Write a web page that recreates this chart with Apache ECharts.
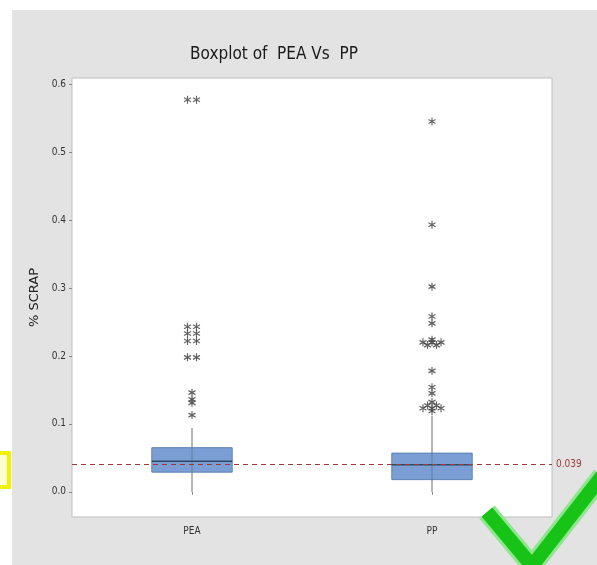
<!DOCTYPE html>
<html>
<head>
<meta charset="utf-8">
<script src="https://cdn.jsdelivr.net/npm/echarts@6/dist/echarts.min.js"></script>
<style>
html, body { margin: 0; padding: 0; background: #fff; }
#main { width: 597px; height: 565px; }
</style>
</head>
<body>
<div id="main"></div>
<script>
// 数据
var categories = ['PEA', 'PP'];
var lowWhisker = [0.0, 0.0];
var q1 = [0.029, 0.018];
var median = [0.045, 0.040];
var q3 = [0.065, 0.057];
var highWhisker = [0.094, 0.112];
var peaOutliers = [0.577, 0.577, 0.243, 0.243, 0.233, 0.233, 0.222, 0.222, 0.198, 0.198, 0.146, 0.136, 0.131, 0.113];
var ppOutliers = [0.545, 0.393, 0.302, 0.258, 0.248, 0.224, 0.220, 0.220, 0.220, 0.216, 0.216, 0.178, 0.154, 0.145, 0.132, 0.127, 0.127, 0.123, 0.123, 0.123, 0.119];
var yTicks = [0, 0.1, 0.2, 0.3, 0.4, 0.5, 0.6];
var refValue = 0.039;

var narrow = "'DejaVu Sans Condensed', 'Liberation Sans Narrow', 'Roboto Condensed', sans-serif";

var boxData = [];
for (var i = 0; i < categories.length; i++) {
    boxData.push([i, lowWhisker[i], q1[i], median[i], q3[i], highWhisker[i]]);
}

// 离群点, 相同值左右错开
function buildOutliers(list, idx) {
    var seen = {};
    var out = [];
    for (var k = 0; k < list.length; k++) {
        var key = list[k].toFixed(3);
        var n = seen[key] || 0;
        seen[key] = n + 1;
        var total = list.filter(function (v) { return v.toFixed(3) === key; }).length;
        var dx = (n - (total - 1) / 2) * 9;
        out.push({ value: [idx, list[k]], symbolOffset: [dx, 0] });
    }
    return out;
}
var outlierData = buildOutliers(peaOutliers, 0).concat(buildOutliers(ppOutliers, 1));

function renderBox(params, api) {
    var x = api.value(0);
    var lo = api.coord([x, api.value(1)]);
    var b1 = api.coord([x, api.value(2)]);
    var m = api.coord([x, api.value(3)]);
    var b3 = api.coord([x, api.value(4)]);
    var hi = api.coord([x, api.value(5)]);
    var w = api.size([1, 0])[0] * 0.335;
    return {
        type: 'group',
        children: [
            { type: 'line', shape: { x1: lo[0], y1: lo[1], x2: b1[0], y2: b1[1] }, style: { stroke: '#6e6e6e', lineWidth: 1 } },
            { type: 'line', shape: { x1: b3[0], y1: b3[1], x2: hi[0], y2: hi[1] }, style: { stroke: '#6e6e6e', lineWidth: 1 } },
            { type: 'rect', shape: { x: b1[0] - w / 2, y: b3[1], width: w, height: b1[1] - b3[1] }, style: { fill: '#7b9fd5', stroke: '#5e80b3', lineWidth: 1 } },
            { type: 'line', shape: { x1: b3[0], y1: b3[1], x2: b1[0], y2: b1[1] }, style: { stroke: 'rgba(70,80,100,0.45)', lineWidth: 1 } },
            { type: 'line', shape: { x1: m[0] - w / 2, y1: m[1], x2: m[0] + w / 2, y2: m[1] }, style: { stroke: '#2f4a68', lineWidth: 1.5 } }
        ]
    };
}

var myChart = echarts.init(document.getElementById('main'));
myChart.setOption({
    backgroundColor: '#ffffff',
    animation: false,
    title: {
        text: 'Boxplot of  PEA Vs  PP',
        left: 269,
        top: 41,
        textAlign: 'center',
        textStyle: { fontFamily: narrow, fontSize: 17, fontWeight: 'normal', color: '#1a1a1a' }
    },
    graphic: {
        elements: [
            { type: 'rect', z: -100, shape: { x: 12, y: 10, width: 600, height: 570 }, style: { fill: '#e3e3e3' } },
            { type: 'rect', z: 100, shape: { x: -10, y: 453, width: 19, height: 34 }, style: { fill: '#ffffd0', stroke: '#f2f200', lineWidth: 4 } },
            { type: 'polyline', z: 100, shape: { points: [[487, 512], [532, 566], [602, 476]] }, style: { fill: null, stroke: '#8fe68f', lineWidth: 20 } },
            { type: 'polyline', z: 101, shape: { points: [[487, 512], [532, 566], [602, 476]] }, style: { fill: null, stroke: '#17c317', lineWidth: 14 } }
        ]
    },
    grid: {
        left: 72,
        right: 45,
        top: 78,
        bottom: 48,
        show: true,
        backgroundColor: '#ffffff',
        borderColor: '#bdbdbd',
        borderWidth: 1
    },
    xAxis: {
        type: 'category',
        data: categories,
        axisLine: { show: false },
        axisTick: { show: true, alignWithLabel: true, length: 3, lineStyle: { color: '#888' } },
        axisLabel: { margin: 9, fontFamily: narrow, fontSize: 10, color: '#333' },
        splitLine: { show: false }
    },
    yAxis: {
        type: 'value',
        min: -0.037,
        max: 0.609,
        name: '% SCRAP',
        nameLocation: 'middle',
        nameGap: 30,
        nameTextStyle: { fontFamily: 'DejaVu Sans', fontSize: 13, color: '#222' },
        axisLine: { show: false },
        axisTick: { show: true, length: 3, customValues: yTicks, lineStyle: { color: '#888' } },
        axisLabel: {
            customValues: yTicks,
            margin: 6,
            fontFamily: narrow,
            fontSize: 10,
            color: '#333',
            formatter: function (v) { return v.toFixed(1); }
        },
        splitLine: { show: false }
    },
    series: [
        {
            type: 'custom',
            renderItem: renderBox,
            encode: { x: 0, y: [1, 2, 3, 4, 5] },
            data: boxData,
            z: 2
        },
        {
            type: 'scatter',
            symbol: 'path://M0,-5 L0,5 M-4.33,-2.5 L4.33,2.5 M-4.33,2.5 L4.33,-2.5',
            symbolSize: [7, 8],
            itemStyle: { color: 'transparent', borderColor: '#3a3a3a', borderWidth: 1.2 },
            data: outlierData,
            z: 3,
            markLine: {
                silent: true,
                symbol: ['none', 'none'],
                lineStyle: { color: '#9a3a3a', type: [5, 4], width: 1 },
                label: { position: 'end', distance: 4, formatter: refValue.toFixed(3), fontFamily: narrow, fontSize: 10, color: '#a33a3a' },
                data: [{ yAxis: refValue }]
            }
        }
    ]
});
</script>
</body>
</html>
